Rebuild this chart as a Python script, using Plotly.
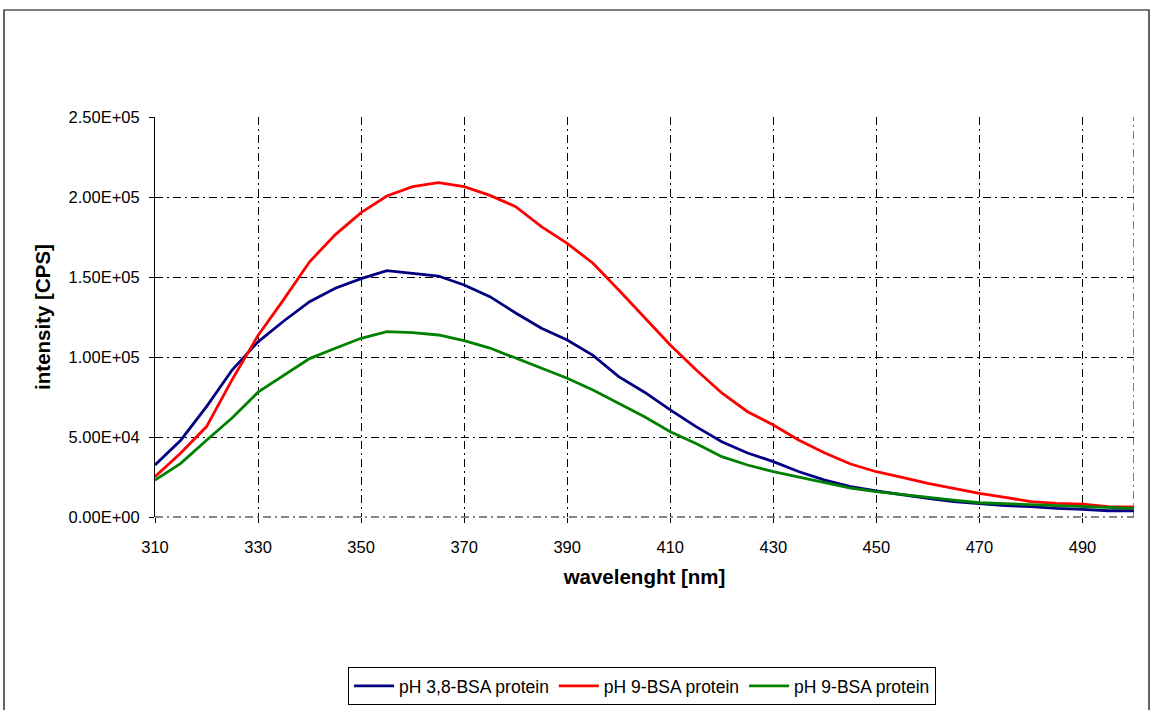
import plotly.graph_objects as go

wavelength = [310, 315, 320, 325, 330, 335, 340, 345, 350, 355, 360, 365, 370, 375,
              380, 385, 390, 395, 400, 405, 410, 415, 420, 425, 430, 435, 440, 445,
              450, 455, 460, 465, 470, 475, 480, 485, 490, 495, 500]

ph38_bsa = [32500, 48000, 69000, 92000, 109500, 122500, 134600, 143000, 149000, 154000,
            152300, 150600, 145000, 137700, 127500, 118000, 110600, 101000, 87700, 78000,
            67000, 56500, 47000, 40000, 34600, 28300, 23000, 19000, 16250, 13750,
            11700, 9600, 8500, 7100, 6500, 5400, 4800, 3900, 3900]

ph9_bsa_red = [25200, 40000, 56500, 86000, 113500, 136000, 159500, 176500, 190200, 200600,
               206500, 209000, 206500, 201000, 194000, 181500, 171000, 158600, 141900, 125000,
               107500, 92000, 77500, 65800, 57500, 48000, 40000, 33100, 28300, 24800,
               21000, 17900, 14800, 12300, 9600, 8500, 8000, 6500, 6250]

ph9_bsa_green = [23000, 33500, 48000, 62000, 78000, 88700, 99000, 105500, 111700, 115800,
                 115200, 113750, 110200, 105600, 99300, 93000, 86700, 79400, 71000, 62700,
                 53300, 46000, 37700, 32500, 28300, 25000, 21500, 18000, 15800, 14200,
                 12300, 10600, 8900, 8300, 7800, 7100, 6500, 5800, 5400]

series_names = ["pH 3,8-BSA protein", "pH 9-BSA protein", "pH 9-BSA protein"]
series_colors = ["#000080", "#FF0000", "#008000"]

x_ticks = [310, 330, 350, 370, 390, 410, 430, 450, 470, 490]
y_tickvals = [0, 50000, 100000, 150000, 200000, 250000]
y_ticktext = ["0.00E+00", "5.00E+04", "1.00E+05", "1.50E+05", "2.00E+05", "2.50E+05"]

FONT = "Liberation Sans, Arial, sans-serif"
DASH = "8px,4px,2px,4px"

fig = go.Figure()
for vals, name, color in zip([ph38_bsa, ph9_bsa_red, ph9_bsa_green], series_names, series_colors):
    fig.add_trace(go.Scatter(x=wavelength, y=vals, mode="lines", name=name,
                             line=dict(color=color, width=2.8)))

fig.update_layout(
    width=1151, height=710,
    margin=dict(l=155, r=17, t=117, b=193),
    paper_bgcolor="white", plot_bgcolor="white",
    font=dict(family=FONT, color="black", size=16),
    showlegend=True,
    legend=dict(orientation="h", x=0.4975, xanchor="center",
                yref="container", y=(710 - 705) / 710, yanchor="bottom",
                bordercolor="black", borderwidth=1, bgcolor="white",
                font=dict(family=FONT, size=17.5, color="black"),
                itemwidth=40, tracegroupgap=0),
    xaxis=dict(range=[310, 500], tickvals=x_ticks, ticks="outside", ticklen=5,
               tickcolor="black", showgrid=True, gridcolor="black", gridwidth=1,
               griddash=DASH, zeroline=False, showline=False, automargin=False,
               tickfont=dict(size=16.5), ticklabelstandoff=10,
               title=dict(text="<b>wavelenght [nm]</b>", font=dict(size=20.5), standoff=14)),
    yaxis=dict(range=[0, 250000], tickvals=y_tickvals, ticktext=y_ticktext, ticks="outside",
               ticklen=5, tickcolor="black", showgrid=True, gridcolor="black", gridwidth=1,
               griddash=DASH, zeroline=False, showline=True, linecolor="black", linewidth=1,
               automargin=False,
               tickfont=dict(size=16.5), ticklabelstandoff=6,
               title=dict(text="<b>intensity [CPS]</b>", font=dict(size=20.5), standoff=12)),
)

# right edge dash-dot line at x=500 and bottom line
fig.add_shape(type="line", xref="x", yref="paper", x0=500, x1=500, y0=0, y1=1,
              line=dict(color="black", width=1, dash=DASH), layer="below")
fig.add_shape(type="line", xref="paper", yref="paper", x0=0, x1=1, y0=0, y1=0,
              line=dict(color="#606060", width=1.5, dash=DASH), layer="above")

# outer chart border
fig.add_shape(type="rect", xref="paper", yref="paper",
              x0=(4 - 155) / 979, x1=(1149 - 155) / 979,
              y0=(517 - 715) / 400, y1=(517 - 10) / 400,
              line=dict(color="black", width=1.2), fillcolor="rgba(0,0,0,0)")

fig.write_html("out.html")
